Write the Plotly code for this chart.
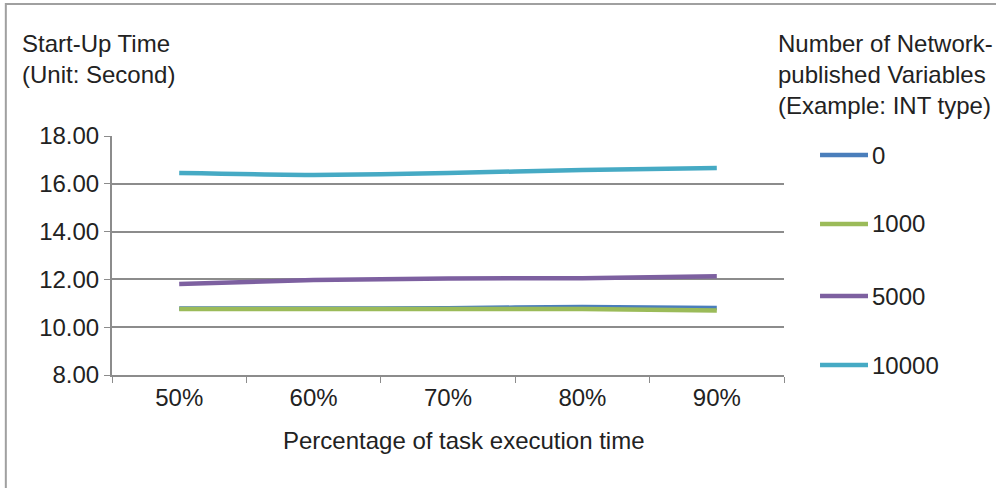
import plotly.graph_objects as go

categories = ["50%", "60%", "70%", "80%", "90%"]
series_names = ["0", "1000", "5000", "10000"]
vals_0 = [10.78, 10.78, 10.79, 10.85, 10.80]
vals_1000 = [10.76, 10.76, 10.76, 10.76, 10.70]
vals_5000 = [11.81, 11.97, 12.04, 12.05, 12.13]
vals_10000 = [16.45, 16.37, 16.45, 16.58, 16.66]
colors = ["#4a7ebb", "#9bbb59", "#7d60a0", "#46aac4"]

FONT = "Liberation Sans, Arial, sans-serif"
GRID = "#8c8c8c"
FS = 24

fig = go.Figure()
for name, vals, col in zip(series_names, [vals_0, vals_1000, vals_5000, vals_10000], colors):
    fig.add_trace(
        go.Scatter(
            x=categories,
            y=vals,
            mode="lines",
            name=name,
            showlegend=False,
            line=dict(color=col, width=4.5, shape="spline", smoothing=0.5),
        )
    )

# legend drawn by hand so the key lines can be as long as in the original
legend_y = [0.9205, 0.6318, 0.3305, 0.0418]
shapes = []
annotations = []
for name, col, ly in zip(series_names, colors, legend_y):
    shapes.append(dict(
        type="line", xref="paper", yref="paper",
        x0=1.0536, x1=1.125, y0=ly, y1=ly,
        line=dict(color=col, width=4.5),
    ))
    annotations.append(dict(
        text=name, xref="paper", yref="paper",
        x=1.128, y=ly, xanchor="left", yanchor="middle",
        showarrow=False, font=dict(size=FS),
    ))

# outer frame
shapes.append(dict(
    type="rect", xref="paper", yref="paper",
    x0=-0.158, y0=-1.0, x1=2.0, y1=1.552,
    line=dict(color="#a0a0a0", width=2),
    fillcolor="rgba(0,0,0,0)",
    layer="below",
))

annotations += [
    dict(
        text="Start-Up Time<br>(Unit: Second)",
        xref="paper", yref="paper",
        x=-0.137, y=1.45, xanchor="left", yanchor="top",
        align="left", showarrow=False, font=dict(size=FS),
    ),
    dict(
        text="Number of Network-<br>published Variables<br>(Example: INT type)",
        xref="paper", yref="paper",
        x=0.988, y=1.45, xanchor="left", yanchor="top",
        align="left", showarrow=False, font=dict(size=FS),
    ),
    dict(
        text="Percentage of task execution time",
        xref="paper", yref="paper",
        x=0.524, y=-0.276, xanchor="center", yanchor="middle",
        showarrow=False, font=dict(size=FS),
    ),
]

fig.update_layout(
    width=996,
    height=488,
    margin=dict(l=112, r=212, t=136, b=113),
    paper_bgcolor="white",
    plot_bgcolor="white",
    font=dict(family=FONT, size=FS, color="#222222"),
    showlegend=False,
    xaxis=dict(
        type="category",
        range=[-0.5, 4.5],
        tickson="boundaries",
        ticks="outside",
        ticklen=6,
        tickcolor=GRID,
        showline=True,
        linecolor=GRID,
        linewidth=2,
        showgrid=False,
    ),
    yaxis=dict(
        range=[8, 18],
        dtick=2,
        tickformat=".2f",
        ticks="outside",
        ticklen=6,
        tickcolor=GRID,
        showline=True,
        linecolor=GRID,
        linewidth=2,
        gridcolor=GRID,
        gridwidth=1.5,
        zeroline=False,
    ),
    annotations=annotations,
    shapes=shapes,
)

fig.write_html(
    "out.html",
    config={"displayModeBar": False},
    post_script="document.body.style.margin='0px';",
)
